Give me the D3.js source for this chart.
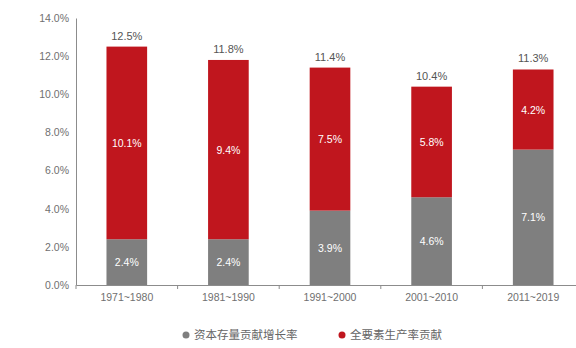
<!DOCTYPE html>
<html>
<head>
<meta charset="utf-8">
<script src="https://cdn.jsdelivr.net/npm/d3@7/dist/d3.min.js"></script>
<style>
  html, body { margin: 0; padding: 0; background: #fff; }
  svg { display: block; font-family: "Noto Sans CJK SC", "Liberation Sans", sans-serif; }
</style>
</head>
<body>
<svg id="chart" width="576" height="348"></svg>
<script>
// Periods and the two stacked components (percent)
const periods = ["1971~1980", "1981~1990", "1991~2000", "2001~2010", "2011~2019"];
const capitalShare = [2.4, 2.4, 3.9, 4.6, 7.1];
const otherShare = [10.1, 9.4, 7.5, 5.8, 4.2];
const totals = [12.5, 11.8, 11.4, 10.4, 11.3];
const yTicks = [0, 2, 4, 6, 8, 10, 12, 14];
const seriesNames = ["资本存量贡献增长率", "全要素生产率贡献"];
const colors = ["#7f7f7f", "#c0161e"];

const svg = d3.select("#chart");
const x0 = 76, x1 = 584, yTop = 18, yBottom = 285;

const x = d3.scaleBand().domain(periods).range([x0, x1]).paddingInner(0.6).paddingOuter(0.3);
const y = d3.scaleLinear().domain([0, 14]).range([yBottom, yTop]);

// Y axis
const yAxis = d3.axisLeft(y).tickValues(yTicks).tickSize(0).tickPadding(7)
  .tickFormat(d => d.toFixed(1) + "%");
const gy = svg.append("g").attr("transform", `translate(${x0},0)`).call(yAxis);
gy.select(".domain").attr("stroke", "#8c8c8c");
gy.selectAll("text").attr("fill", "#707070").attr("font-size", 10.5)
  .attr("font-family", "Liberation Sans, sans-serif");

// X axis
const xAxis = d3.axisBottom(x).tickSize(0).tickPadding(9);
const gx = svg.append("g").attr("transform", `translate(0,${yBottom})`).call(xAxis);
gx.select(".domain").attr("stroke", "#8c8c8c");
gx.selectAll("text").attr("fill", "#707070").attr("font-size", 10.5)
  .attr("font-family", "Liberation Sans, sans-serif");
// Category separators on the x axis
const bounds = d3.range(periods.length + 1).map(i => x0 + i * (x1 - x0) / periods.length);
gx.selectAll(".sep").data(bounds).enter().append("line")
  .attr("x1", d => d).attr("x2", d => d).attr("y1", 0).attr("y2", 4)
  .attr("stroke", "#8c8c8c");

// Stacked bars
const rows = periods.map((p, i) => ({ period: p, a: capitalShare[i], b: otherShare[i], total: totals[i] }));
const stack = d3.stack().keys(["a", "b"])(rows);

const layers = svg.append("g").selectAll("g").data(stack).enter().append("g")
  .attr("fill", (d, i) => colors[i]);
layers.selectAll("rect").data(d => d).enter().append("rect")
  .attr("x", d => x(d.data.period))
  .attr("width", x.bandwidth())
  .attr("y", d => y(d[1]))
  .attr("height", d => y(d[0]) - y(d[1]));

// Segment labels
layers.selectAll("text").data(d => d.map(s => ({ s, key: d.key }))).enter().append("text")
  .attr("x", d => x(d.s.data.period) + x.bandwidth() / 2)
  .attr("y", d => (y(d.s[0]) + y(d.s[1])) / 2 + 4)
  .attr("text-anchor", "middle")
  .attr("fill", "#fff")
  .attr("font-size", 10.5)
  .attr("font-family", "Liberation Sans, sans-serif")
  .text(d => d.s.data[d.key].toFixed(1) + "%");

// Total labels above each bar
svg.append("g").selectAll("text").data(rows).enter().append("text")
  .attr("x", d => x(d.period) + x.bandwidth() / 2)
  .attr("y", d => y(d.total) - 7)
  .attr("text-anchor", "middle")
  .attr("fill", "#555")
  .attr("font-size", 11)
  .attr("font-family", "Liberation Sans, sans-serif")
  .text(d => d.total.toFixed(1) + "%");

// Legend
const legend = svg.append("g").attr("transform", "translate(186,335)");
const legendX = [0, 156];
seriesNames.forEach((name, i) => {
  const g = legend.append("g").attr("transform", `translate(${legendX[i]},0)`);
  g.append("circle").attr("r", 3.5).attr("fill", colors[i]);
  g.append("text").attr("x", 8).attr("y", 4).attr("font-size", 11.5)
    .attr("fill", "#666").text(name);
});
</script>
</body>
</html>
